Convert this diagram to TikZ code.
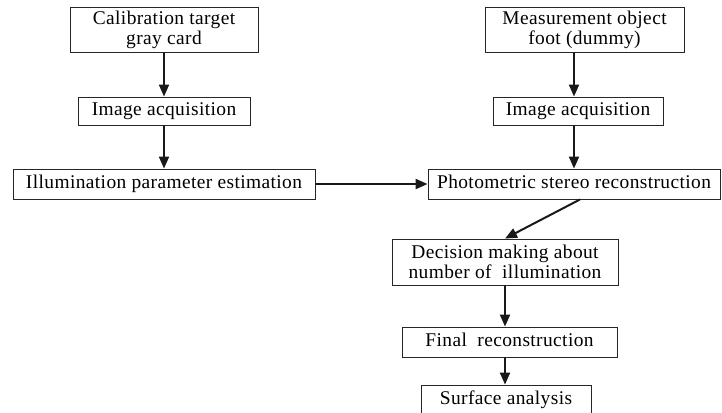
\documentclass[tikz,border=0pt]{standalone}
\usepackage{fontspec}
\setmainfont{Liberation Serif}[LetterSpace=2]
\usetikzlibrary{positioning,arrows.meta}

\begin{document}
\begin{tikzpicture}[x=1bp,y=-1bp,
  stepbox/.style={draw=black!85,line width=0.9bp,inner sep=0pt,align=center,
    font=\fontsize{19.5}{20}\selectfont},
  onebox/.style={stepbox,text height=13bp,text depth=4bp},
  flow/.style={line width=2bp,black!90,-{Triangle[length=12bp,width=10bp]}}]
\useasboundingbox (0,0) rectangle (722,412);
% left column
\node[stepbox,minimum width=188bp,minimum height=45bp] (cal) at (164,29.5) {Calibration target\\gray card};
\node[onebox,minimum width=172bp,minimum height=28bp] (acqL) at (164,111) {Image acquisition};
\node[onebox,minimum width=302bp,minimum height=30bp] (illum) at (164,184) {Illumination parameter estimation};
% right column
\node[stepbox,minimum width=199bp,minimum height=45bp] (meas) at (584.5,29.5) {Measurement object\\foot (dummy)};
\node[onebox,minimum width=170bp,minimum height=28bp] (acqR) at (578,111) {Image acquisition};
\node[onebox,minimum width=292bp,minimum height=30bp] (photo) at (574,184) {Photometric stereo reconstruction};
\node[stepbox,minimum width=226bp,minimum height=46bp] (decide) at (505,262) {Decision making about\\number of\ \ illumination};
\node[onebox,minimum width=215bp,minimum height=30bp] (final) at (509.5,342) {Final\ \ reconstruction};
\node[onebox,minimum width=170bp,minimum height=30bp] (surf) at (506,400) {Surface analysis};

\draw[flow] (cal.south) -- (acqL.north);
\draw[flow] (acqL.south) -- (illum.north);
\draw[flow] (illum.east) -- (photo.west);
\draw[flow] (photo.north |- meas.south) -- (photo.north |- acqR.north);
\draw[flow] (photo.north |- acqR.south) -- (photo.north);
\draw[flow] ([xshift=6bp]photo.south) -- (decide.north);
\draw[flow] (decide.south) -- (final.north -| decide.south);
\draw[flow] (final.south -| decide.south) -- (surf.north -| decide.south);
\end{tikzpicture}
\end{document}
